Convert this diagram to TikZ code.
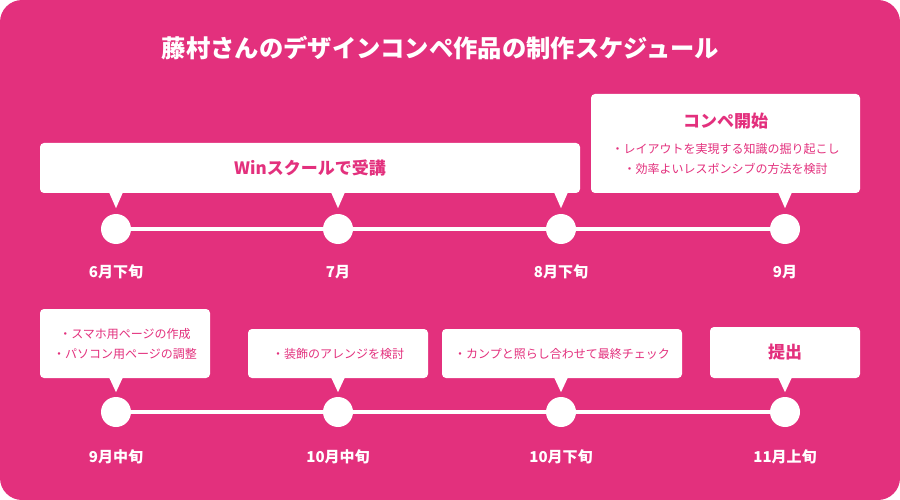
\documentclass[tikz,border=0pt]{standalone}
\usepackage{fontspec}
\setmainfont{Noto Sans CJK JP}
\definecolor{schedpink}{HTML}{E3307D}

\newcommand{\bubbletip}[3]{%
  \fill[white] (#2 |- #1.south) ++(-7,-1) -- ++(7,#3) -- ++(7,-#3) -- cycle;}

\begin{document}
\begin{tikzpicture}[
  x=1pt, y=-1pt,
  bubble/.style     = {fill=white, rounded corners=4pt, inner sep=0pt,
                       text=schedpink, align=center},
  dot/.style        = {circle, fill=white, minimum size=30pt, inner sep=0pt},
  date label/.style = {text=white, font=\fontsize{15}{18}\selectfont\bfseries},
  head text/.style  = {font=\fontsize{17}{20}\selectfont\bfseries},
  body text/.style  = {font=\fontsize{12}{20}\selectfont},
  time line/.style  = {draw=white, line width=4pt},
]

% ── Canvas ─────────────────────────────────────────────────────────────────
\useasboundingbox (0,0) rectangle (900,500);
\fill[schedpink, rounded corners=22pt] (0,0) rectangle (900,500);

\node[text=white, font=\fontsize{24.3}{28}\selectfont\bfseries] (title) at (440.5,48)
  {藤村さんのデザインコンペ作品の制作スケジュール};

% ── Rows ───────────────────────────────────────────────────────────────────
% upper row (June -- September), lower row (September -- November)
\def\rowA{229}
\def\rowB{412}
\def\labA{272}
\def\labB{457}

\foreach \x [count=\i] in {116,338,561,785} {
  \node[dot] (t\i) at (\x,\rowA) {};
  \node[dot] (b\i) at (\x,\rowB) {};
}

\draw[time line] (t1) -- (t2) (t2) -- (t3) (t3) -- (t4);
\draw[time line] (b1) -- (b2) (b2) -- (b3) (b3) -- (b4);

% ── Date labels ────────────────────────────────────────────────────────────
\node[date label] (lt1) at (116,\labA) {6月下旬};
\node[date label] (lt2) at (338,\labA) {7月};
\node[date label] (lt3) at (561,\labA) {8月下旬};
\node[date label] (lt4) at (785,\labA) {9月};

\node[date label] (lb1) at (116,\labB) {9月中旬};
\node[date label] (lb2) at (338,\labB) {10月中旬};
\node[date label] (lb3) at (561,\labB) {10月下旬};
\node[date label] (lb4) at (785,\labB) {11月上旬};

% ── Upper bubbles ──────────────────────────────────────────────────────────
\node[bubble, head text, minimum width=540pt, minimum height=50pt] (win)
  at (310,168) {Winスクールで受講};
\bubbletip{win}{t1}{16}
\bubbletip{win}{t2}{16}
\bubbletip{win}{t3}{16}

\node[bubble, body text, minimum width=269pt, minimum height=99pt] (comp)
  at (725.5,143.5)
  {{\fontsize{17}{20}\selectfont\bfseries コンペ開始}\\[6pt]
   ・レイアウトを実現する知識の掘り起こし\\
   ・効率よいレスポンシブの方法を検討};
\bubbletip{comp}{t4}{16}

% ── Lower bubbles ──────────────────────────────────────────────────────────
\node[bubble, body text, minimum width=170pt, minimum height=69pt] (sp)
  at (125,343.5) {・スマホ用ページの作成\\・パソコン用ページの調整};
\bubbletip{sp}{b1}{15}

\node[bubble, body text, minimum width=180pt, minimum height=49pt] (deco)
  at (338,353.5) {・装飾のアレンジを検討};
\bubbletip{deco}{b2}{15}

\node[bubble, body text, minimum width=240pt, minimum height=49pt] (check)
  at (562,353.5) {・カンプと照らし合わせて最終チェック};
\bubbletip{check}{b3}{15}

\node[bubble, head text, minimum width=150pt, minimum height=51pt] (submit)
  at (785,352.5) {提出};
\bubbletip{submit}{b4}{15}

\end{tikzpicture}
\end{document}
